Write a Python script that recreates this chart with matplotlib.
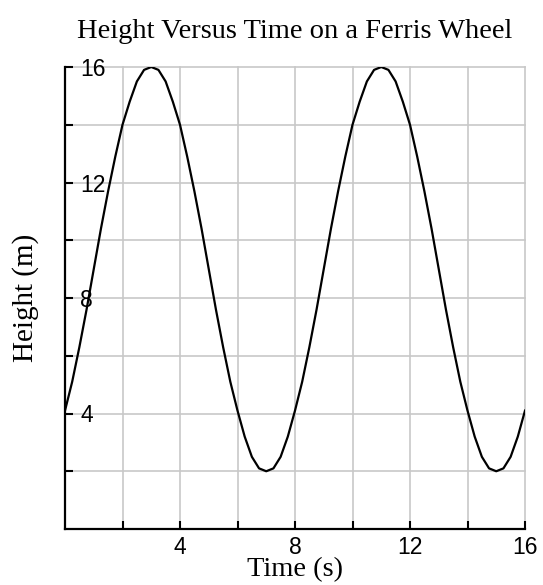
import matplotlib
matplotlib.use("Agg")
import matplotlib.pyplot as plt

# Data (time in s, height in m)
time_s = [0.0, 0.25, 0.5, 0.75, 1.0, 1.25, 1.5, 1.75, 2.0, 2.25, 2.5, 2.75,
          3.0, 3.25, 3.5, 3.75, 4.0, 4.25, 4.5, 4.75, 5.0, 5.25, 5.5, 5.75,
          6.0, 6.25, 6.5, 6.75, 7.0, 7.25, 7.5, 7.75, 8.0, 8.25, 8.5, 8.75,
          9.0, 9.25, 9.5, 9.75, 10.0, 10.25, 10.5, 10.75, 11.0, 11.25, 11.5, 11.75,
          12.0, 12.25, 12.5, 12.75, 13.0, 13.25, 13.5, 13.75, 14.0, 14.25, 14.5, 14.75,
          15.0, 15.25, 15.5, 15.75, 16.0]
height_m = [4.1, 5.1, 6.3, 7.6, 9.0, 10.4, 11.7, 12.9, 14.0, 14.8, 15.5, 15.9,
            16.0, 15.9, 15.5, 14.8, 14.0, 12.9, 11.7, 10.4, 9.0, 7.6, 6.3, 5.1,
            4.1, 3.2, 2.5, 2.1, 2.0, 2.1, 2.5, 3.2, 4.1, 5.1, 6.3, 7.6,
            9.0, 10.4, 11.7, 12.9, 14.0, 14.8, 15.5, 15.9, 16.0, 15.9, 15.5, 14.8,
            14.0, 12.9, 11.7, 10.4, 9.0, 7.6, 6.3, 5.1, 4.1, 3.2, 2.5, 2.1,
            2.0, 2.1, 2.5, 3.2, 4.1]

tick_values = [2, 4, 6, 8, 10, 12, 14, 16]
tick_labels = ["", "4", "", "8", "", "12", "", "16"]

title = "Height Versus Time on a Ferris Wheel"
xlabel = "Time (s)"
ylabel = "Height (m)"

fig = plt.figure(figsize=(5.43, 5.85), dpi=100)
ax = fig.add_axes([65 / 543, 1 - 529 / 585, 460 / 543, 462 / 585])

ax.plot(time_s, height_m, color="black", linewidth=1.6, zorder=3)

ax.set_xlim(0, 16)
ax.set_ylim(0, 16)
ax.set_xticks(tick_values)
ax.set_xticklabels(tick_labels)
ax.set_yticks(tick_values)
ax.set_yticklabels(tick_labels)

ax.grid(True, color="#c8c8c8", linewidth=1.2)
ax.set_axisbelow(True)
for gl in ax.get_xgridlines() + ax.get_ygridlines():
    gl.set_clip_on(False)

for s in ("top", "right"):
    ax.spines[s].set_visible(False)
for s in ("left", "bottom"):
    ax.spines[s].set_linewidth(1.6)
    ax.spines[s].set_color("black")
    ax.spines[s].set_zorder(4)

ax.tick_params(axis="both", direction="in", length=6, width=1.5, color="black")
ax.tick_params(axis="x", pad=5)
ax.tick_params(axis="y", pad=-11)
for lbl in ax.get_xticklabels():
    lbl.set_fontfamily("Liberation Sans")
    lbl.set_fontsize(16.5)
for lbl in ax.get_yticklabels():
    lbl.set_fontfamily("Liberation Sans")
    lbl.set_fontsize(16.5)
    lbl.set_horizontalalignment("left")

serif = "Liberation Serif"
ax.set_title(title, fontfamily=serif, fontsize=20.5, pad=21)
ax.set_xlabel(xlabel, fontfamily=serif, fontsize=20.5, labelpad=-1)
ax.set_ylabel(ylabel, fontfamily=serif, fontsize=21, labelpad=19)

fig.savefig("out.png", dpi=100)
